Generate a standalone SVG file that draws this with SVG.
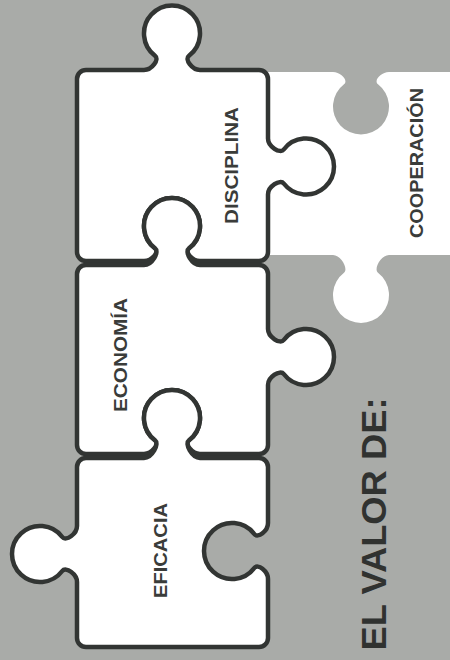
<svg xmlns="http://www.w3.org/2000/svg" width="450" height="660" viewBox="0 0 450 660">
<style>
.bg{fill:#a9aba8}
.piece{fill:#ffffff;stroke:#323533;stroke-width:4.5;stroke-linejoin:round}
.ghost{fill:#ffffff;stroke:none}
.lbl{font-family:"Liberation Sans","Arial",sans-serif;font-weight:700;font-size:18px;fill:#3a3c3a;text-anchor:middle}
.title{font-family:"Liberation Sans","Arial",sans-serif;font-weight:700;font-size:35px;fill:#303230;text-anchor:middle}
</style>
<rect class="bg" x="0" y="0" width="450" height="660"/>
<g id="cooperacion">
<path class="ghost" d="M266,72 L333,72 C341,72 348.7,80.65 344,84.25 A28 28 0 1 0 378,84.25 C373.3,80.65 381,72 389,72 L455,72 L455,255 L389,255 C381,255 373.3,269.15 378,272.75 A28 28 0 1 1 344,272.75 C348.7,269.15 341,255 333,255 L266,255 Z"/>
<text class="lbl" font-size="17" transform="translate(423,163) rotate(-90)" textLength="150" lengthAdjust="spacingAndGlyphs">COOPERACIÓN</text>
</g>
<g id="disciplina">
<path class="piece" d="M86,70 L144,70 C152,70 159.7,59.35 155,55.75 A28 28 0 1 1 189,55.75 C184.3,59.35 192,70 200,70 L259,70 A9 9 0 0 1 268,79 L268,138.5 C268,146.5 280.15,154.2 283.75,149.5 A28 28 0 1 1 283.75,183.5 C280.15,178.8 268,186.5 268,194.5 L268,252 A9 9 0 0 1 259,261 L200,261 C192,261 184.3,251.85 189,248.25 A28 28 0 1 0 155,248.25 C159.7,251.85 152,261 144,261 L86,261 A9 9 0 0 1 77,252 L77,79 A9 9 0 0 1 86,70 Z"/>
<text class="lbl" transform="translate(238,165.5) rotate(-90)" textLength="117" lengthAdjust="spacingAndGlyphs">DISCIPLINA</text>
</g>
<g id="economia">
<path class="piece" d="M86,265 L144,265 C152,265 159.7,251.85 155,248.25 A28 28 0 1 1 189,248.25 C184.3,251.85 192,265 200,265 L259,265 A9 9 0 0 1 268,274 L268,329 C268,337 280.15,344.7 283.75,340 A28 28 0 1 1 283.75,374 C280.15,369.3 268,377 268,385 L268,445 A9 9 0 0 1 259,454 L200,454 C192,454 184.3,443.85 189,440.25 A28 28 0 1 0 155,440.25 C159.7,443.85 152,454 144,454 L86,454 A9 9 0 0 1 77,445 L77,274 A9 9 0 0 1 86,265 Z"/>
<text class="lbl" transform="translate(127,355) rotate(-90)" textLength="114" lengthAdjust="spacingAndGlyphs">ECONOMÍA</text>
</g>
<g id="eficacia">
<path class="piece" d="M86,458 L144,458 C152,458 159.7,443.85 155,440.25 A28 28 0 1 1 189,440.25 C184.3,443.85 192,458 200,458 L259,458 A9 9 0 0 1 268,467 L268,523 C268,531 257.85,538.7 254.25,534 A28 28 0 1 0 254.25,568 C257.85,563.3 268,571 268,579 L268,638 A9 9 0 0 1 259,647 L86,647 A9 9 0 0 1 77,638 L77,582 C77,574 65.85,566.3 62.25,571 A28 28 0 1 1 62.25,537 C65.85,541.7 77,534 77,526 L77,467 A9 9 0 0 1 86,458 Z"/>
<text class="lbl" transform="translate(167,550.5) rotate(-90)" textLength="95" lengthAdjust="spacingAndGlyphs">EFICACIA</text>
</g>
<g id="title">
<text class="title" transform="translate(386,524) rotate(-90)" textLength="253" lengthAdjust="spacingAndGlyphs">EL VALOR DE:</text>
</g>
<g id="connectors"></g>
</svg>
